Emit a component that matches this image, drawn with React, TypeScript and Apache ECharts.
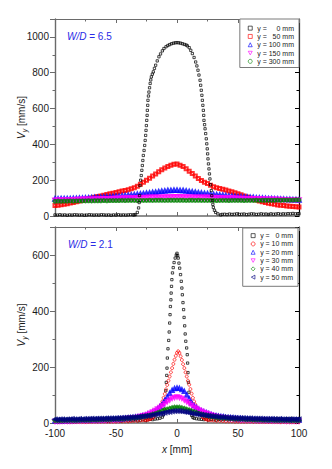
import React, { useEffect, useRef } from 'react';
import * as echarts from 'echarts';

const FONT = "'Liberation Sans', Arial, sans-serif";

// ---------- Top panel (W/D = 6.5) ----------
const topNames = ['y = \u2007\u20070 mm', 'y = \u200750 mm', 'y = 100 mm', 'y = 150 mm', 'y = 300 mm'];
// sampling positions x [mm] for the coloured top series
const xTop = Array.from({ length: 81 }, (_, i) => -100 + 2.5 * i);
const redTop = [
  58, 60, 63, 66, 69, 72, 76, 80, 84, 88,
  93, 97, 101, 105, 109, 112, 116, 120, 124, 127,
  131, 135, 139, 143, 147, 152, 158, 166, 177, 188,
  199, 211, 223, 235, 247, 258, 268, 277, 284, 289,
  290, 284, 276, 264, 250, 237, 224, 210, 198, 189,
  181, 172, 164, 158, 153, 149, 145, 140, 136, 130,
  124, 118, 112, 106, 100, 95, 89, 84, 80, 75,
  71, 68, 65, 62, 60, 58, 56, 54, 53, 51, 50,
];
const blueTop = [
  95, 95, 96, 96, 97, 97, 98, 98, 99, 99,
  100, 101, 102, 103, 104, 105, 106, 107, 108, 109,
  110, 111, 113, 114, 116, 117, 119, 121, 123, 125,
  127, 129, 131, 133, 136, 138, 140, 142, 143, 144,
  144, 143, 142, 140, 137, 135, 133, 130, 128, 126,
  124, 122, 120, 119, 117, 116, 114, 112, 111, 109,
  108, 107, 106, 105, 104, 103, 101, 100, 99, 98,
  97, 96, 95, 95, 94, 93, 92, 92, 91, 91, 90,
];
const magentaTop = [
  88, 89, 89, 90, 90, 91, 91, 92, 92, 93,
  93, 94, 94, 95, 95, 96, 96, 97, 97, 98,
  98, 99, 99, 100, 100, 101, 101, 102, 102, 103,
  103, 104, 104, 105, 105, 105, 106, 106, 106, 107,
  107, 107, 106, 106, 106, 105, 105, 105, 104, 104,
  104, 103, 103, 102, 102, 101, 101, 100, 100, 99,
  99, 98, 98, 97, 97, 96, 96, 95, 95, 94,
  94, 93, 93, 92, 92, 91, 91, 90, 90, 90, 89,
];
const greenTop = [
  82, 83, 82, 83, 83, 84, 83, 84, 84, 84,
  84, 85, 84, 85, 85, 85, 86, 85, 86, 86,
  86, 86, 87, 86, 87, 87, 87, 86, 87, 87,
  87, 88, 87, 88, 88, 88, 87, 88, 88, 88,
  88, 88, 88, 87, 88, 88, 87, 88, 87, 87,
  87, 87, 87, 86, 87, 87, 87, 86, 87, 87,
  87, 87, 86, 87, 87, 87, 88, 87, 88, 88,
  88, 88, 88, 89, 88, 89, 89, 89, 89, 90, 90,
];
// y = 0 mm jet core profile, [x mm, Vy mm/s]
const blackTop: number[][] = [
  [-100, 6], [-98, 5], [-96, 7], [-94, 5], [-92, 6], [-90, 4], [-88, 6], [-86, 5], [-84, 7], [-82, 6],
  [-80, 5], [-78, 6], [-76, 4], [-74, 5], [-72, 7], [-70, 6], [-68, 5], [-66, 6], [-64, 5], [-62, 7],
  [-60, 6], [-58, 5], [-56, 6], [-54, 4], [-52, 6], [-50, 5], [-48, 7], [-46, 5], [-44, 6], [-42, 5],
  [-40, 6], [-38, 7], [-36, 6], [-35, 6], [-34, 8], [-32.5, 20], [-31.5, 45], [-31, 75], [-30.7, 114],
  [-30.3, 170], [-29.8, 200], [-29.3, 226], [-28.8, 255], [-28.4, 282], [-28, 310], [-27.6, 338],
  [-27, 366], [-26.5, 394], [-26.1, 422], [-25.7, 450], [-25.4, 478], [-25.1, 505], [-24.8, 534],
  [-24.5, 562], [-24.3, 590], [-24, 618], [-23.8, 646], [-23.4, 670], [-23, 692], [-22.5, 716],
  [-22, 740], [-21.5, 760], [-21, 777], [-20.2, 792], [-19.4, 805], [-18.5, 824], [-17.5, 842],
  [-16.2, 866], [-14.8, 889], [-13.5, 905], [-12, 922], [-10.7, 935], [-9, 945], [-7.5, 952],
  [-6, 957], [-4.5, 962], [-3, 965], [-1.5, 967], [0, 968], [1.5, 967], [3, 965], [4.5, 962],
  [6, 958], [7.5, 955], [8.5, 950], [10, 940], [11.3, 925], [12.6, 907], [14, 885], [15.3, 860],
  [16.3, 838], [17.2, 814], [18, 787], [18.9, 758], [19.4, 730], [19.9, 702], [20.4, 674],
  [20.8, 646], [21.2, 618], [21.6, 590], [21.9, 562], [22.1, 534], [22.6, 510], [23, 487],
  [23.5, 460], [24, 431], [24.4, 403], [24.8, 375], [25.1, 347], [25.4, 319], [25.8, 291],
  [26.2, 263], [26.6, 235], [27, 207], [27.5, 175], [28.1, 142], [28.5, 114], [28.9, 86],
  [29.4, 65], [29.8, 48], [30.7, 32], [31.7, 20], [33.5, 12], [35.8, 6],
  [37, 9], [39, 10], [41, 8], [43, 11], [45, 9], [47, 10], [49, 12], [51, 9], [53, 10], [55, 11],
  [57, 8], [59, 10], [61, 12], [63, 11], [65, 9], [67, 10], [69, 12], [71, 10], [73, 11], [75, 9],
  [77, 12], [79, 10], [81, 11], [83, 13], [85, 10], [87, 12], [89, 11], [91, 13], [93, 12], [95, 14],
  [97, 12], [99, 13], [100, 13],
];

// ---------- Bottom panel (W/D = 2.1) ----------
const botNames = ['y = \u20070 mm', 'y = 10 mm', 'y = 20 mm', 'y = 30 mm', 'y = 40 mm', 'y = 50 mm'];
const xBot = Array.from({ length: 101 }, (_, i) => -100 + 2 * i);
const blueBot = [
  8, 8, 9, 8, 9, 9, 9, 10, 9, 10,
  10, 10, 11, 10, 11, 11, 11, 12, 12, 12,
  12, 13, 13, 13, 14, 14, 15, 15, 16, 17,
  18, 19, 20, 21, 22, 24, 26, 28, 31, 34,
  38, 43, 50, 58, 68, 80, 93, 106, 117, 123,
  125, 124, 119, 113, 100, 87, 72, 62, 55, 48,
  43, 40, 37, 33, 30, 27, 26, 24, 23, 22,
  20, 19, 19, 18, 17, 16, 16, 15, 14, 14,
  13, 13, 13, 12, 12, 12, 12, 11, 11, 11,
  11, 11, 10, 11, 10, 10, 10, 10, 10, 10, 10,
];
const magentaBot = [
  6, 6, 6, 7, 7, 7, 7, 7, 8, 8,
  8, 8, 8, 8, 9, 9, 9, 9, 9, 10,
  10, 10, 11, 11, 11, 12, 12, 13, 14, 15,
  16, 17, 18, 19, 21, 24, 26, 28, 31, 35,
  40, 45, 50, 56, 62, 69, 76, 82, 88, 91,
  93, 91, 88, 82, 76, 70, 63, 57, 52, 47,
  42, 38, 35, 32, 29, 26, 24, 22, 20, 19,
  17, 16, 15, 14, 14, 13, 12, 12, 11, 11,
  10, 10, 10, 10, 9, 9, 9, 9, 9, 8,
  8, 8, 8, 8, 8, 7, 7, 7, 7, 7, 7,
];
const greenBot = [
  9, 9, 9, 9, 10, 10, 10, 10, 10, 10,
  11, 11, 11, 11, 11, 12, 12, 12, 12, 13,
  13, 13, 13, 13, 14, 14, 14, 15, 15, 16,
  17, 17, 18, 19, 20, 21, 23, 24, 26, 28,
  31, 33, 36, 39, 43, 46, 49, 52, 54, 56,
  56, 56, 54, 52, 49, 46, 43, 40, 37, 34,
  31, 29, 27, 25, 23, 22, 21, 20, 19, 18,
  17, 16, 16, 15, 15, 14, 14, 14, 13, 13,
  13, 12, 12, 12, 12, 11, 11, 11, 11, 11,
  10, 10, 10, 10, 10, 10, 9, 9, 9, 9, 9,
];
const navyBot = [
  13, 12, 13, 13, 12, 13, 13, 14, 13, 13,
  14, 13, 14, 14, 14, 15, 14, 15, 15, 15,
  15, 16, 16, 16, 16, 17, 17, 18, 18, 19,
  19, 20, 20, 21, 22, 23, 24, 25, 26, 27,
  29, 30, 32, 33, 35, 37, 39, 40, 42, 43,
  43, 43, 42, 40, 39, 37, 35, 33, 32, 30,
  29, 28, 27, 26, 25, 24, 23, 22, 21, 21,
  20, 19, 19, 18, 18, 17, 17, 17, 16, 16,
  16, 15, 15, 15, 15, 14, 14, 14, 14, 14,
  13, 13, 14, 13, 13, 13, 12, 13, 13, 12, 13,
];
const redBot: number[][] = [
  [-100, 3], [-97.5, 3], [-95, 3], [-92.5, 4], [-90, 3], [-87.5, 3], [-85, 4], [-82.5, 4], [-80, 4],
  [-77.5, 4], [-75, 4], [-72.5, 4], [-70, 4], [-67.5, 5], [-65, 5], [-62.5, 5], [-60, 5], [-57.5, 5],
  [-55, 5], [-52.5, 5], [-50, 5], [-47.5, 6], [-45, 6], [-42.5, 6], [-40, 6], [-37.5, 7], [-35, 8],
  [-32.5, 8], [-30, 9], [-28, 10], [-26, 10], [-25, 11], [-24, 12], [-23, 13], [-22, 14], [-21, 16],
  [-20, 19], [-19, 23], [-18, 28], [-17, 34], [-16, 41], [-15, 48], [-14, 56], [-13, 66], [-12, 77],
  [-11, 90], [-10, 104], [-9, 120], [-8, 136], [-7, 151], [-6, 166], [-5, 181], [-4, 196], [-3, 211],
  [-2, 226], [-1, 240], [0, 251], [1, 256], [2, 250], [3, 238], [4, 225], [5, 210], [6, 196],
  [7, 181], [8, 166], [9, 151], [10, 137], [11, 121], [12, 105], [13, 90], [14, 77], [15, 66],
  [16, 56], [17, 48], [18, 41], [19, 33], [20, 27], [21, 22], [22, 18], [23, 15], [24, 13], [25, 12],
  [26, 11], [28, 10], [30, 9], [32.5, 8], [35, 8], [37.5, 7], [40, 6], [42.5, 6], [45, 6], [47.5, 5],
  [50, 5], [52.5, 5], [55, 5], [57.5, 5], [60, 5], [62.5, 4], [65, 5], [67.5, 4], [70, 4], [72.5, 4],
  [75, 4], [77.5, 4], [80, 4], [82.5, 4], [85, 3], [87.5, 4], [90, 3], [92.5, 3], [95, 3], [97.5, 3],
  [100, 3],
];
const blackBot: number[][] = [
  [-100, 9], [-98, 7], [-96, 10], [-94, 8], [-92, 6], [-90, 9], [-88, 11], [-86, 8], [-84, 7], [-82, 10],
  [-80, 9], [-78, 6], [-76, 8], [-74, 10], [-72, 7], [-70, 9], [-68, 11], [-66, 8], [-64, 7], [-62, 9],
  [-60, 10], [-58, 8], [-56, 6], [-54, 9], [-52, 11], [-50, 8], [-48, 10], [-46, 7], [-44, 9], [-42, 11],
  [-40, 8], [-38, 10], [-36, 9], [-34, 11], [-32, 8], [-30, 10], [-28, 12], [-26, 9], [-24, 11],
  [-22, 13], [-20, 12], [-18, 14], [-16, 15], [-14, 17], [-12, 21], [-11, 30], [-10.3, 50],
  [-9.7, 80], [-9.2, 115], [-8.8, 145], [-8.4, 170], [-8.2, 196], [-7.9, 232], [-7.4, 265],
  [-6.8, 295], [-6.4, 325], [-6, 357], [-5.7, 387], [-5.4, 416], [-5, 440], [-4.8, 464],
  [-4.5, 488], [-4.2, 512], [-3.7, 536], [-3.1, 555], [-2.4, 573], [-1.5, 589], [-0.6, 600],
  [0, 606], [0.5, 598], [1, 589], [1.6, 571], [2.2, 553], [2.9, 530], [3.5, 506], [4, 482],
  [4.4, 458], [4.9, 430], [5.4, 405], [5.8, 377], [6.3, 347], [6.7, 318], [7.2, 292], [7.9, 268],
  [8.4, 244], [8.7, 214], [9, 180], [9.4, 145], [9.8, 110], [10.3, 75], [11, 45], [12, 27],
  [13, 20], [14, 17], [16, 15], [18, 14],
  [20, 13], [22, 12], [24, 14], [26, 11], [28, 13], [30, 12], [32, 10], [34, 13], [36, 11], [38, 12],
  [40, 14], [42, 11], [44, 13], [46, 12], [48, 10], [50, 13], [52, 14], [54, 12], [56, 11], [58, 13],
  [60, 15], [62, 12], [64, 14], [66, 13], [68, 11], [70, 14], [72, 16], [74, 13], [76, 12], [78, 15],
  [80, 14], [82, 17], [84, 13], [86, 15], [88, 12], [90, 16], [92, 14], [94, 17], [96, 13], [98, 15],
  [100, 16],
];

const xTicks = { min: -100, max: 100, interval: 50 };
const yTopRange = { min: 0, max: 1100, interval: 200 };
const yBotRange = { min: 0, max: 700, interval: 200 };

const AXIS_GRAY = '#6a6a6a';
const TEXT = '#1a1a1a';

const SYM_DOWN = 'path://M0,0 L10,0 L5,9 Z';
const SYM_LEFT = 'path://M0,5 L9,0 L9,10 Z';

function hollow(color: string, bw: number) {
  return { color: 'transparent', borderColor: color, borderWidth: bw };
}

export default function App() {
  const ref = useRef<HTMLDivElement>(null);
  useEffect(() => {
    if (!ref.current) return;
    const chart = echarts.init(ref.current, undefined, { renderer: 'svg' });

    const xAxisBase = (grid: number, pos: 'top' | 'bottom', labels: boolean) => ({
      type: 'value',
      gridIndex: grid,
      position: pos,
      ...xTicks,
      axisLine: { show: true, onZero: false, lineStyle: { color: AXIS_GRAY, width: pos === 'bottom' ? 1.6 : 1.2 } },
      axisTick: { show: true, inside: true, length: 4, lineStyle: { color: AXIS_GRAY, width: 1 } },
      minorTick: { show: true, splitNumber: 2, length: 2.5, lineStyle: { color: AXIS_GRAY, width: 1 } },
      splitLine: { show: false },
      axisLabel: {
        show: labels, margin: 5, fontSize: 10, fontFamily: FONT, color: TEXT,
        formatter: (v: number) => String(v),
      },
      name: labels ? '{i|x} [mm]' : '',
      nameLocation: 'middle',
      nameGap: 21,
      nameMoveOverlap: false,
      nameTextStyle: {
        fontSize: 10, fontFamily: FONT, color: TEXT,
        rich: { i: { fontStyle: 'italic', fontSize: 10, fontFamily: FONT, color: TEXT } },
      },
    });
    const yAxisBase = (grid: number, pos: 'left' | 'right', range: any) => ({
      type: 'value',
      gridIndex: grid,
      position: pos,
      ...range,
      axisLine: { show: true, onZero: false, lineStyle: { color: pos === 'left' ? AXIS_GRAY : '#000', width: pos === 'left' ? 1.4 : 1.2 } },
      axisTick: { show: true, inside: pos === 'right', length: pos === 'left' ? 5 : 4, lineStyle: { color: pos === 'left' ? AXIS_GRAY : '#000', width: 1 } },
      minorTick: { show: true, splitNumber: 2, length: 2.5, lineStyle: { color: pos === 'left' ? AXIS_GRAY : '#000', width: 1 } },
      splitLine: { show: false },
      axisLabel: {
        show: pos === 'left', margin: 6, fontSize: 10, fontFamily: FONT, color: TEXT, showMaxLabel: false,
        formatter: (v: number) => String(v),
      },
      name: pos === 'left' ? '{i|V}{s|y} [mm/s]' : '',
      nameLocation: 'middle',
      nameRotate: 90,
      nameGap: 27,
      nameMoveOverlap: false,
      nameTextStyle: {
        fontSize: 10, fontFamily: FONT, color: TEXT,
        rich: {
          i: { fontStyle: 'italic', fontSize: 10, fontFamily: FONT, color: TEXT },
          s: { fontStyle: 'italic', fontSize: 7, fontFamily: FONT, color: TEXT, padding: [6, 0, 0, 0] },
        },
      },
    });

    const sc = (name: string, data: number[][], xi: number, symbol: string, color: string, size: number, bw: number) => ({
      type: 'scatter',
      name,
      xAxisIndex: xi,
      yAxisIndex: xi,
      data,
      symbol,
      symbolSize: size,
      itemStyle: hollow(color, bw),
      emphasis: { disabled: true },
      silent: true,
    });
    const zip = (xs: number[], ys: number[]) => xs.map((x, i) => [x, ys[i]]);

    const legendBase = {
      orient: 'vertical',
      itemWidth: 4,
      itemHeight: 4,
      itemGap: 0,
      selectedMode: false,
      borderColor: '#7a7a7a',
      borderWidth: 1,
      borderRadius: 0,
      backgroundColor: '#fff',
      itemStyle: { borderWidth: 0.8 },
      textStyle: { fontSize: 7, lineHeight: 8.3, fontFamily: FONT, color: TEXT },
    };

    const wdRich = {
      i: { fontStyle: 'italic', fontSize: 10, fontFamily: FONT, fill: '#2a2ae6' },
      n: { fontSize: 10, fontFamily: FONT, fill: '#2a2ae6' },
    };

    chart.setOption({
      animation: false,
      backgroundColor: '#fff',
      grid: [
        { left: 55, top: 19, width: 244, height: 197, containLabel: false },
        { left: 55, top: 227, width: 244, height: 196, containLabel: false },
      ],
      xAxis: [
        xAxisBase(0, 'bottom', false),
        xAxisBase(0, 'top', false),
        xAxisBase(1, 'bottom', true),
        xAxisBase(1, 'top', false),
      ],
      yAxis: [
        yAxisBase(0, 'left', yTopRange),
        yAxisBase(0, 'right', yTopRange),
        yAxisBase(1, 'left', yBotRange),
        yAxisBase(1, 'right', yBotRange),
      ],
      legend: [
        { ...legendBase, data: topNames, right: 33, top: 19, padding: [5, 5, 2, 8] },
        { ...legendBase, data: botNames, right: 34, top: 228, padding: [3.5, 5, 5, 8] },
      ],
      graphic: [
        { type: 'text', left: 67, top: 31, style: { text: '{i|W/D} {n|= 6.5}', rich: wdRich, font: `10px ${FONT}` } },
        { type: 'text', left: 68, top: 239, style: { text: '{i|W/D} {n|= 2.1}', rich: wdRich, font: `10px ${FONT}` } },
      ],
      series: [
        sc(topNames[1], zip(xTop, redTop), 0, 'rect', '#ff0000', 3, 2),
        sc(topNames[2], zip(xTop, blueTop), 0, 'triangle', '#0000ff', 3.5, 2),
        sc(topNames[3], zip(xTop, magentaTop), 0, SYM_DOWN, '#ff00ff', 3.5, 2),
        sc(topNames[4], zip(xTop, greenTop), 0, 'circle', '#008000', 3, 2),
        sc(topNames[0], blackTop, 0, 'rect', '#000000', 2.3, 0.9),
        sc(botNames[0], blackBot, 2, 'rect', '#000000', 2.3, 0.9),
        sc(botNames[1], redBot, 2, 'circle', '#ff0000', 3, 0.9),
        sc(botNames[2], zip(xBot, blueBot), 2, 'triangle', '#0000ff', 3.5, 1.8),
        sc(botNames[3], zip(xBot, magentaBot), 2, SYM_DOWN, '#ff00ff', 3.5, 1.8),
        sc(botNames[4], zip(xBot, greenBot), 2, 'diamond', '#008000', 3.5, 1.8),
        sc(botNames[5], zip(xBot, navyBot), 2, SYM_LEFT, '#000080', 3.5, 1.8),
      ],
    });
    return () => chart.dispose();
  }, []);
  return <div ref={ref} style={{ position: 'fixed', left: 0, top: 0, width: 332, height: 469, background: '#fff' }} />;
}
